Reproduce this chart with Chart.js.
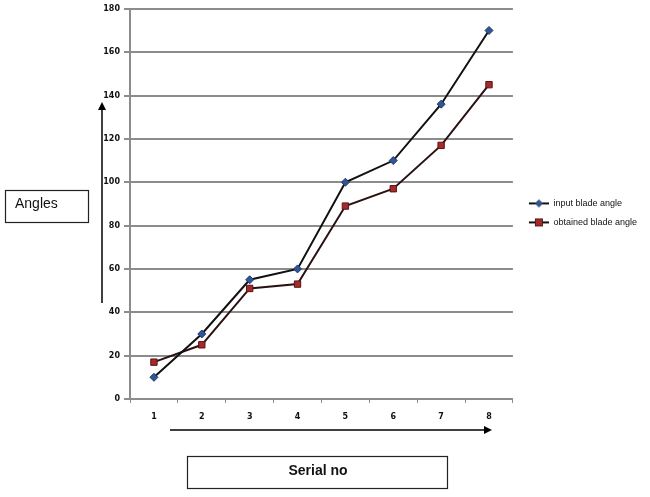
<!DOCTYPE html>
<html>
<head>
<meta charset="utf-8">
<script src="https://cdn.jsdelivr.net/npm/chart.js@4/dist/chart.umd.min.js"></script>
<style>
  html, body { margin: 0; padding: 0; background: #fff; }
  #wrap { width: 650px; height: 497px; }
</style>
</head>
<body>
<div id="wrap"><canvas id="angleChart" width="650" height="497"></canvas></div>
<script>
const serialNo = ['1', '2', '3', '4', '5', '6', '7', '8'];
const inputAngle = [10, 30, 55, 60, 100, 110, 136, 170];
const obtainedAngle = [17, 25, 51, 53, 89, 97, 117, 145];

// little line+marker swatches for the legend (left 6px left blank on purpose)
const makeSwatch = (shape, fill, stroke) => {
  const c = document.createElement('canvas');
  c.width = 26; c.height = 10;
  const g = c.getContext('2d');
  g.strokeStyle = '#111';
  g.lineWidth = 2;
  g.beginPath(); g.moveTo(6, 5); g.lineTo(26, 5); g.stroke();
  g.fillStyle = fill;
  g.strokeStyle = stroke;
  g.lineWidth = 1;
  if (shape === 'diamond') {
    g.beginPath(); g.moveTo(16, 1.5); g.lineTo(19.5, 5); g.lineTo(16, 8.5); g.lineTo(12.5, 5); g.closePath();
    g.fill(); g.stroke();
  } else {
    g.fillRect(12, 1, 8, 8); g.strokeRect(12.5, 1.5, 7, 7);
  }
  return c;
};
const swatches = [
  makeSwatch('diamond', '#2f5597', '#1f3864'),
  makeSwatch('square', '#a52a2a', '#5a1414')
];

const arrow = (ctx, x1, y1, x2, y2) => {
  ctx.save();
  ctx.strokeStyle = '#000';
  ctx.fillStyle = '#000';
  ctx.lineWidth = 1.5;
  const a = Math.atan2(y2 - y1, x2 - x1);
  const hx = x2 - 8 * Math.cos(a), hy = y2 - 8 * Math.sin(a);
  ctx.beginPath(); ctx.moveTo(x1, y1); ctx.lineTo(hx, hy); ctx.stroke();
  ctx.beginPath();
  ctx.moveTo(x2, y2);
  ctx.lineTo(hx + 4 * Math.sin(a), hy - 4 * Math.cos(a));
  ctx.lineTo(hx - 4 * Math.sin(a), hy + 4 * Math.cos(a));
  ctx.closePath(); ctx.fill();
  ctx.restore();
};

// the hand-drawn boxes and arrows around the plot
const notes = {
  id: 'notes',
  afterDraw(chart) {
    const ctx = chart.ctx;
    ctx.save();
    ctx.strokeStyle = '#222';
    ctx.lineWidth = 1.2;
    ctx.strokeRect(5.5, 190.5, 83, 32);
    ctx.strokeRect(187.5, 456.5, 260, 32);
    ctx.fillStyle = '#111';
    ctx.textBaseline = 'middle';
    ctx.font = '14px "Liberation Sans", Arial, sans-serif';
    ctx.fillText('Angles', 15, 204);
    ctx.font = 'bold 14px "Liberation Sans", Arial, sans-serif';
    ctx.textAlign = 'center';
    ctx.fillText('Serial no', 318, 471);
    ctx.restore();
    arrow(ctx, 102, 303, 102, 102);
    arrow(ctx, 170, 430, 492, 430);
  }
};

new Chart(document.getElementById('angleChart'), {
  type: 'line',
  data: {
    labels: serialNo,
    datasets: [{
      label: 'input blade angle',
      data: inputAngle,
      borderColor: '#111',
      borderWidth: 2,
      pointStyle: 'rectRot',
      pointRadius: 4,
      pointBackgroundColor: '#2f5597',
      pointBorderColor: '#1f3864',
      pointBorderWidth: 1,
      fill: false,
      tension: 0
    }, {
      label: 'obtained blade angle',
      data: obtainedAngle,
      borderColor: '#2a1212',
      borderWidth: 2,
      pointStyle: 'rect',
      pointRadius: 4.5,
      pointBackgroundColor: '#a52a2a',
      pointBorderColor: '#5a1414',
      pointBorderWidth: 1,
      fill: false,
      tension: 0
    }]
  },
  options: {
    responsive: false,
    animation: false,
    layout: { padding: { top: 6, right: 3, left: 0, bottom: 0 } },
    plugins: {
      tooltip: { enabled: false },
      legend: {
        position: 'right',
        align: 'center',
        fullSize: false,
        // blank title just pushes the entries down a little
        title: { display: true, text: ' ', padding: 0, font: { size: 15, lineHeight: 1.2 } },
        labels: {
          usePointStyle: true,
          pointStyleWidth: 26,
          boxHeight: 9,
          padding: 10,
          color: '#111',
          font: { family: '"Liberation Sans", Arial, sans-serif', size: 9 },
          generateLabels: (chart) => {
            const items = Chart.defaults.plugins.legend.labels.generateLabels(chart);
            items.forEach((it, i) => { it.pointStyle = swatches[i]; });
            return items;
          }
        }
      }
    },
    scales: {
      x: {
        offset: true,
        grid: {
          offset: true,
          drawOnChartArea: false,
          drawTicks: true,
          tickLength: 4,
          color: '#8c8c8c',
          lineWidth: 1
        },
        border: { color: '#8c8c8c', width: 2 },
        ticks: {
          padding: 9,
          color: '#111',
          font: { family: '"DejaVu Sans", Verdana, sans-serif', size: 8, weight: 'bold' }
        },
        afterFit: (axis) => { axis.height = 98; }
      },
      y: {
        min: 0,
        max: 180,
        ticks: {
          stepSize: 20,
          padding: 4,
          color: '#111',
          font: { family: '"DejaVu Sans", Verdana, sans-serif', size: 8, weight: 'bold' }
        },
        grid: {
          color: '#8c8c8c',
          lineWidth: 2,
          tickLength: 6
        },
        border: { color: '#8c8c8c', width: 2 },
        afterFit: (axis) => { axis.width = 130; }
      }
    }
  },
  plugins: [notes]
});
</script>
</body>
</html>
